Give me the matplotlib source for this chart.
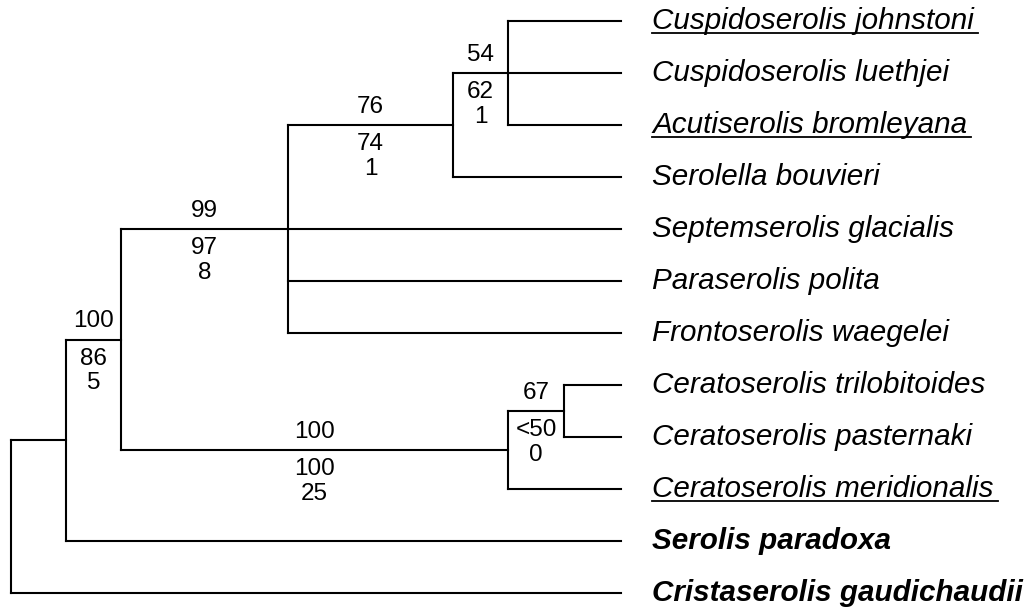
"""
Serolid cladogram with support values (bootstrap above, jackknife / Bremer below).
"""
import matplotlib.pyplot as plt

plt.rcParams['font.family'] = ['Liberation Sans', 'DejaVu Sans']

# tips from top to bottom
taxa = ['Cuspidoserolis johnstoni', 'Cuspidoserolis luethjei',
        'Acutiserolis bromleyana', 'Serolella bouvieri',
        'Septemserolis glacialis', 'Paraserolis polita',
        'Frontoserolis waegelei', 'Ceratoserolis trilobitoides',
        'Ceratoserolis pasternaki', 'Ceratoserolis meridionalis',
        'Serolis paradoxa', 'Cristaserolis gaudichaudii']
underlined = ['Cuspidoserolis johnstoni', 'Acutiserolis bromleyana',
              'Ceratoserolis meridionalis']
bold = ['Serolis paradoxa', 'Cristaserolis gaudichaudii']

# internal nodes: depth along the x axis and children (tips or nodes)
node_depth = {'root': 11, 'n1': 66, 'n2': 121, 'n3': 288, 'n4': 453,
              'n5': 508, 'n6': 508, 'n7': 564}
node_children = {
    'root': ['n1', 'Cristaserolis gaudichaudii'],
    'n1': ['n2', 'Serolis paradoxa'],
    'n2': ['n3', 'n6'],
    'n3': ['n4', 'Septemserolis glacialis', 'Paraserolis polita',
           'Frontoserolis waegelei'],
    'n4': ['n5', 'Serolella bouvieri'],
    'n5': ['Cuspidoserolis johnstoni', 'Cuspidoserolis luethjei',
           'Acutiserolis bromleyana'],
    'n6': ['n7', 'Ceratoserolis meridionalis'],
    'n7': ['Ceratoserolis trilobitoides', 'Ceratoserolis pasternaki'],
}
tip_depth = 621
# support on the branch leading to each node: (above, below 1, below 2)
support = {'n2': ('100', '86', '5'), 'n3': ('99', '97', '8'),
           'n4': ('76', '74', '1'), 'n5': ('54', '62', '1'),
           'n6': ('100', '100', '25'), 'n7': ('67', '<50', '0')}

parent = {c: p for p, cs in node_children.items() for c in cs}
ypos = {name: i for i, name in enumerate(taxa)}


def place(node):
    ys = [place(c) if c in node_children else ypos[c]
          for c in node_children[node]]
    ypos[node] = (min(ys) + max(ys)) / 2
    return ypos[node]


place('root')

fig = plt.figure(figsize=(10.29, 6.10), dpi=100)
ax = fig.add_axes([0, 0, 1, 1])
ax.set_xlim(0, 1029)
ax.set_ylim(11.327, -0.404)
ax.axis('off')

line_kw = dict(color='black', lw=1.5, solid_capstyle='projecting')
for node, kids in node_children.items():
    x = node_depth[node]
    ys = [ypos[c] for c in kids]
    ax.plot([x, x], [min(ys), max(ys)], **line_kw)
    for c in kids:
        x_end = node_depth.get(c, tip_depth)
        ax.plot([x, x_end], [ypos[c], ypos[c]], **line_kw)

for node, (above, below1, below2) in support.items():
    xm = (node_depth[parent[node]] + node_depth[node]) / 2
    y = ypos[node]
    ax.text(xm, y - 0.35, above, ha='center', va='center', fontsize=17.5)
    ax.text(xm, y + 0.37, below1, ha='center', va='center', fontsize=17.5)
    ax.text(xm, y + 0.84, below2, ha='center', va='center', fontsize=17.5)

labels = {}
for name in taxa:
    labels[name] = ax.text(652, ypos[name], name, ha='left', va='center',
                           fontsize=21.3, style='italic',
                           weight='bold' if name in bold else 'normal')

# matplotlib has no underline, draw it under the measured text
fig.canvas.draw()
inv = ax.transData.inverted()
for name in underlined:
    bb = labels[name].get_window_extent()
    (x0, _), (x1, _) = inv.transform([(bb.x0, bb.y0), (bb.x1, bb.y1)])
    ax.plot([x0, x1 + 4], [ypos[name] + 0.24] * 2, color='black', lw=1.3)

fig.savefig('out.png', dpi=100)
